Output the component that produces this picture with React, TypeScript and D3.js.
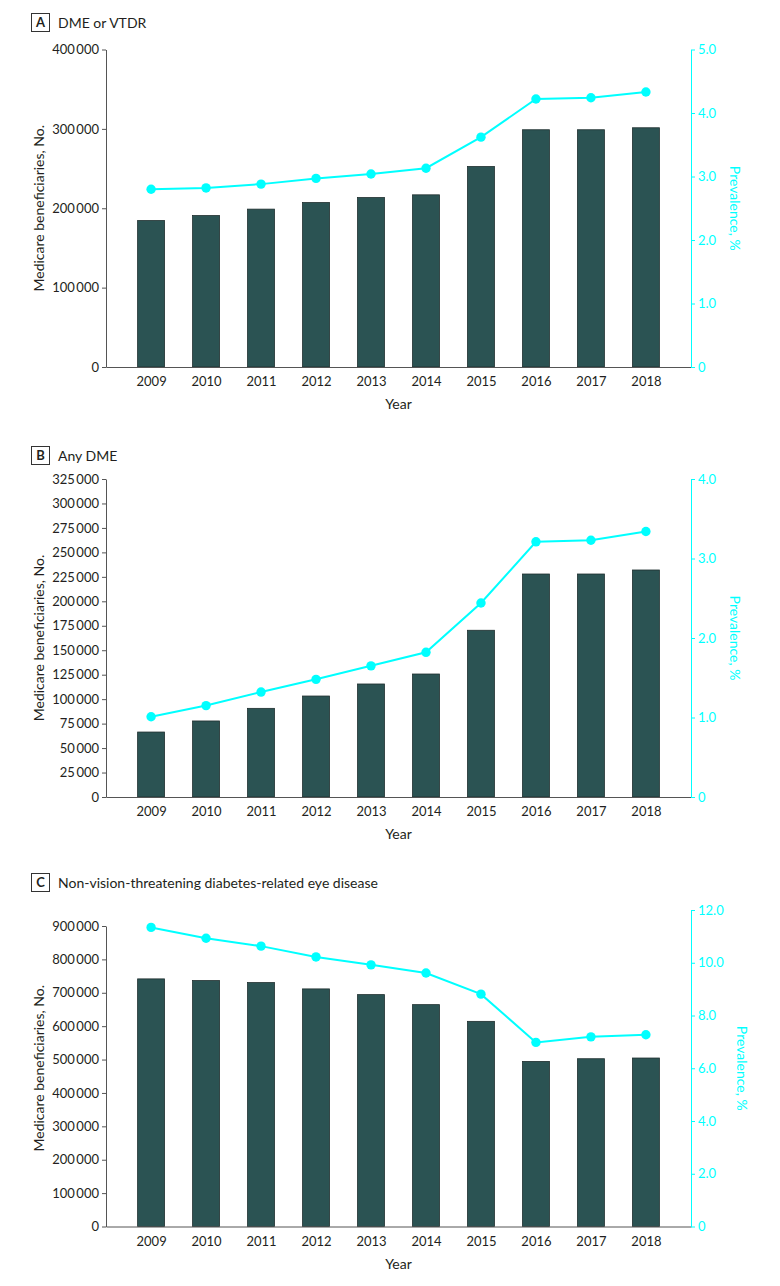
import React, { useEffect, useRef } from "react";
import * as d3 from "d3";

const years = ["2009", "2010", "2011", "2012", "2013", "2014", "2015", "2016", "2017", "2018"];

// A: DME or VTDR
const dmeOrVtdrCount = [184500, 190800, 198900, 207200, 213500, 216900, 252600, 298900, 298900, 301400];
const dmeOrVtdrPrev = [2.8, 2.82, 2.88, 2.97, 3.04, 3.13, 3.62, 4.22, 4.24, 4.33];
const countTicksA = [0, 100000, 200000, 300000, 400000];
const prevTicksA = [0, 1, 2, 3, 4, 5];

// B: Any DME
const anyDmeCount = [66400, 77700, 90600, 103200, 115500, 125700, 170400, 227900, 227900, 232000];
const anyDmePrev = [1.01, 1.15, 1.32, 1.48, 1.65, 1.82, 2.44, 3.21, 3.23, 3.34];
const countTicksB = [0, 25000, 50000, 75000, 100000, 125000, 150000, 175000, 200000, 225000, 250000, 275000, 300000, 325000];
const prevTicksB = [0, 1, 2, 3, 4];

// C: Non-vision-threatening diabetes-related eye disease
const nonVtdCount = [741600, 736500, 730500, 711600, 694500, 664500, 614400, 494400, 502500, 504600];
const nonVtdPrev = [11.34, 10.93, 10.63, 10.22, 9.92, 9.61, 8.81, 6.98, 7.19, 7.27];
const countTicksC = [0, 100000, 200000, 300000, 400000, 500000, 600000, 700000, 800000, 900000];
const prevTicksC = [0, 2, 4, 6, 8, 10, 12];

const panels = [
  { letter: "A", title: "DME or VTDR", counts: dmeOrVtdrCount, prev: dmeOrVtdrPrev, countTicks: countTicksA, prevTicks: prevTicksA, boxY: 13, leftTop: 49.5, rightTop: 49.5, bottom: 367, prevLabelX: 735 },
  { letter: "B", title: "Any DME", counts: anyDmeCount, prev: anyDmePrev, countTicks: countTicksB, prevTicks: prevTicksB, boxY: 446, leftTop: 479, rightTop: 479, bottom: 797, prevLabelX: 735 },
  { letter: "C", title: "Non-vision-threatening diabetes-related eye disease", counts: nonVtdCount, prev: nonVtdPrev, countTicks: countTicksC, prevTicks: prevTicksC, boxY: 873, leftTop: 926, rightTop: 910, bottom: 1226.5, prevLabelX: 742 },
];

const FONT = "Lato, 'Open Sans', sans-serif";
const CYAN = "#00FFFF";
const BAR = "#2b5353";
const AXIS = "#555";
const TEXT = "#231f20";
const left = 106;
const right = 691;

const fmtCount = (d: number) => d3.format(",")(d).replace(/,/g, "\u2009");
const fmtPrev = (d: number) => (d === 0 ? "0" : d3.format(".1f")(d));

export default function App() {
  const svgRef = useRef<SVGSVGElement>(null);

  useEffect(() => {
    const svg = d3.select(svgRef.current);
    svg.selectAll("*").remove();

    const x = d3.scalePoint<string>().domain(years).range([left, right]).padding(0.82);
    const barW = x.step() * 0.49;

    panels.forEach((p) => {
      const g = svg.append("g").attr("font-family", FONT);
      const yL = d3.scaleLinear().domain([0, d3.max(p.countTicks)!]).range([p.bottom, p.leftTop]);
      const yR = d3.scaleLinear().domain([0, d3.max(p.prevTicks)!]).range([p.bottom, p.rightTop]);

      // panel title
      g.append("rect")
        .attr("x", 31.5).attr("y", p.boxY + 0.5)
        .attr("width", 18).attr("height", 18)
        .attr("fill", "none").attr("stroke", "#333");
      g.append("text")
        .attr("x", 40.5).attr("y", p.boxY + 14)
        .attr("text-anchor", "middle").attr("font-weight", "bold")
        .attr("font-size", 13).attr("fill", TEXT)
        .text(p.letter);
      g.append("text")
        .attr("x", 58).attr("y", p.boxY + 14.5)
        .attr("font-size", 14).attr("fill", TEXT)
        .text(p.title);

      // bars
      g.selectAll(".bar")
        .data(p.counts)
        .enter()
        .append("rect")
        .attr("x", (d, i) => x(years[i])! - barW / 2)
        .attr("y", (d) => yL(d))
        .attr("width", barW)
        .attr("height", (d) => p.bottom - yL(d))
        .attr("fill", BAR)
        .attr("stroke", "#1f2f2f")
        .attr("stroke-width", 0.8);

      // left axis
      const la = g.append("g")
        .attr("transform", `translate(${left},0)`)
        .call(d3.axisLeft(yL).tickValues(p.countTicks).tickSize(4).tickSizeOuter(0).tickPadding(3).tickFormat((d) => fmtCount(+d)));
      la.select(".domain").attr("stroke", AXIS);
      la.selectAll(".tick line").attr("stroke", AXIS);
      la.selectAll("text").attr("fill", TEXT).attr("font-size", 13).attr("font-family", FONT);

      // bottom axis
      const ba = g.append("g")
        .attr("transform", `translate(0,${p.bottom})`)
        .call(d3.axisBottom(x).tickSize(0).tickPadding(10));
      ba.select(".domain").attr("stroke", AXIS);
      ba.selectAll("text").attr("fill", TEXT).attr("font-size", 13).attr("font-family", FONT);

      // right axis
      const ra = g.append("g")
        .attr("transform", `translate(${right},0)`)
        .call(d3.axisRight(yR).tickValues(p.prevTicks).tickSize(4).tickSizeOuter(0).tickPadding(3).tickFormat((d) => fmtPrev(+d)));
      ra.select(".domain").attr("stroke", CYAN);
      ra.selectAll(".tick line").attr("stroke", CYAN);
      ra.selectAll("text").attr("fill", CYAN).attr("font-size", 13).attr("font-family", FONT);

      // prevalence line
      const line = d3.line<number>()
        .x((d, i) => x(years[i])!)
        .y((d) => yR(d));
      g.append("path")
        .datum(p.prev)
        .attr("d", line)
        .attr("fill", "none")
        .attr("stroke", CYAN)
        .attr("stroke-width", 2);
      g.selectAll(".dot")
        .data(p.prev)
        .enter()
        .append("circle")
        .attr("cx", (d, i) => x(years[i])!)
        .attr("cy", (d) => yR(d))
        .attr("r", 4.7)
        .attr("fill", CYAN);

      // axis titles
      const mid = (p.bottom + p.leftTop) / 2;
      g.append("text")
        .attr("transform", `translate(39,${(p.bottom + p.rightTop) / 2}) rotate(-90)`)
        .attr("text-anchor", "middle").attr("dy", "0.35em")
        .attr("font-size", 14).attr("fill", TEXT)
        .text("Medicare beneficiaries, No.");
      g.append("text")
        .attr("transform", `translate(${p.prevLabelX},${(p.bottom + p.rightTop) / 2}) rotate(90)`)
        .attr("text-anchor", "middle").attr("dy", "0.35em")
        .attr("font-size", 14).attr("fill", CYAN)
        .text("Prevalence, %");
      g.append("text")
        .attr("x", (left + right) / 2).attr("y", p.bottom + 42)
        .attr("text-anchor", "middle")
        .attr("font-size", 14).attr("fill", TEXT)
        .text("Year");
      void mid;
    });
  }, []);

  return (
    <svg
      ref={svgRef}
      width={780}
      height={1286}
      style={{ position: "absolute", left: 0, top: 0, background: "#fff" }}
    ></svg>
  );
}
